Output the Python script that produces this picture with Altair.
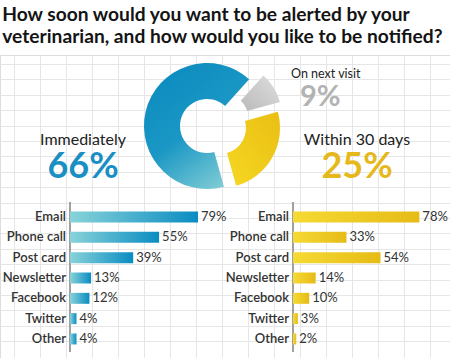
import math
import altair as alt
import pandas as pd

# ---------------- data ----------------
title_lines = ["How soon would you want to be alerted by your",
               "veterinarian, and how would you like to be notified?"]
methods = ["Email", "Phone call", "Post card", "Newsletter", "Facebook", "Twitter", "Other"]
immediately = [79, 55, 39, 13, 12, 4, 4]
within30 = [78, 33, 54, 14, 10, 3, 2]
timing = ["On next visit", "Within 30 days", "Immediately"]
timing_pct = [9, 25, 66]

donut = pd.DataFrame({"timing": timing, "pct": timing_pct})
donut["end"] = donut["pct"].cumsum()
donut["start"] = donut["end"] - donut["pct"]
donut["label"] = donut["pct"].astype(str) + "%"

bars = pd.DataFrame({"method": methods, "imm": immediately, "w30": within30})

# ---------------- styling ----------------
W, H = 450, 303
TOP = 55
FONT = "Lato"
BLUE = "#1a8fc3"
GOLD = "#e5b81c"
GREY = "#b3b3b3"
TXT = "#333333"


def grad(c0, c1, x1=0, y1=0, x2=1, y2=0, mid=None):
    stops = [alt.GradientStop(offset=0, color=c0)]
    if mid:
        stops.append(alt.GradientStop(offset=0.5, color=mid))
    stops.append(alt.GradientStop(offset=1, color=c1))
    return alt.Gradient(gradient="linear", stops=stops, x1=x1, y1=y1, x2=x2, y2=y2)


# ---------------- background grid ----------------
gx = [14 + 26 * k for k in range(17)]
gy = [9 + 15.4 * k for k in range(19)]
grid = alt.Chart(pd.DataFrame({"g": [0]})).mark_point(opacity=0).encode(
    x=alt.X("g:Q", scale=alt.Scale(domain=[0, W], range=[0, W]),
            axis=alt.Axis(values=gx, grid=True, gridColor="#e6e6e6", labels=False,
                          ticks=False, domain=False, title=None)),
    y=alt.Y("g:Q", scale=alt.Scale(domain=[0, H], range=[0, H]),
            axis=alt.Axis(values=gy, grid=True, gridColor="#e6e6e6", labels=False,
                          ticks=False, domain=False, title=None)),
)

# ---------------- donut ----------------
start = math.radians(42)
theta_scale = alt.Scale(domain=[0, 100], range=[start, start + 2 * math.pi])


def slice_layer(name, cx, cy, r0, r1, color):
    return alt.Chart(donut).transform_filter(alt.datum.timing == name).mark_arc(
        innerRadius=r0, outerRadius=r1, color=color
    ).encode(
        theta=alt.Theta("start:Q", scale=theta_scale),
        theta2="end:Q",
        x=alt.value(cx), y=alt.value(cy),
    )


blue_arc = slice_layer("Immediately", 207, 126 - TOP, 27, 63,
                       grad("#0b8bbf", "#86d0d6", 0.2, 0.0, 0.8, 1.0, mid="#1a97c4"))
gold_arc = slice_layer("Within 30 days", 220, 128 - TOP, 26, 60,
                       grad("#f6d822", "#e9be14", 0.0, 1.0, 1.0, 0.0))
grey_arc = slice_layer("On next visit", 226, 117 - TOP, 22, 56,
                       grad("#bababa", "#dedede", 0.0, 1.0, 1.0, 0.0))


def big_label(name, x, y_name, y_pct, align, color, name_size, pct_size):
    base = alt.Chart(donut).transform_filter(alt.datum.timing == name)
    t1 = base.mark_text(align=align, baseline="alphabetic", font=FONT, fontSize=name_size,
                        color="#222222").encode(
        x=alt.value(x), y=alt.value(y_name - TOP), text="timing:N")
    t2 = base.mark_text(align=align, baseline="alphabetic", font=FONT, fontSize=pct_size,
                        fontWeight="bold", color=color).encode(
        x=alt.value(x if align != "left" else x + 9), y=alt.value(y_pct - TOP), text="label:N")
    return t1 + t2


lab_imm = big_label("Immediately", 83, 145, 178, "center", BLUE, 16, 36)
lab_w30 = big_label("Within 30 days", 357, 145, 178, "center", GOLD, 16, 36)
lab_nv = big_label("On next visit", 291, 78, 106, "left", GREY, 12.5, 29)

# ---------------- bar panels ----------------
ROW0, ROW1 = 217 - 10.15 - TOP, 339 + 10.15 - TOP


def panel(field, x0, color):
    xs = alt.Scale(domain=[0, 100], range=[x0, x0 + 162])
    ys = alt.Scale(domain=methods, range=[ROW0, ROW1], paddingInner=0.46, paddingOuter=0.23)
    base = alt.Chart(bars).transform_calculate(lab=alt.datum[field] + "%")
    y = alt.Y("method:N", scale=ys, axis=None)
    bar = base.mark_bar(color=color).encode(
        x=alt.X(f"{field}:Q", scale=xs, axis=None), y=y)
    val = base.mark_text(align="left", baseline="middle", dx=3, font=FONT, fontSize=13,
                         color=TXT).encode(
        x=alt.X(f"{field}:Q", scale=xs, axis=None), y=y, text="lab:N")
    cat = base.mark_text(align="right", baseline="middle", dx=-4, font=FONT, fontSize=13,
                         fontWeight=600, color=TXT).encode(
        x=alt.X(datum=0, scale=xs, axis=None), y=y, text="method:N")
    axis_line = alt.Chart(bars).mark_rule(color="#a0a0a0", strokeWidth=1).encode(
        x=alt.X(datum=0, scale=xs, axis=None),
        y=alt.value(202 - TOP), y2=alt.value(352 - TOP))
    return axis_line + bar + val + cat


left = panel("imm", 70, grad("#88d3d9", "#0a8cc2"))
right = panel("w30", 293, grad("#f6da34", "#e6bb16"))

chart = alt.layer(
    grid, grey_arc, gold_arc, blue_arc, lab_imm, lab_w30, lab_nv, left, right
).resolve_scale(x="independent", y="independent").properties(
    width=W, height=H,
    autosize=alt.AutoSizeParams(type="none"),
    padding={"left": 0, "right": 0, "top": TOP, "bottom": 0},
    title=alt.TitleParams(text=title_lines, anchor="start", font=FONT, fontSize=19.2,
                          fontWeight="bold", color="#141414", lineHeight=22, offset=5, dx=5),
).configure_view(stroke=None).configure(background="white")

chart.save("out.html", embed_options={"renderer": "svg", "actions": False})
